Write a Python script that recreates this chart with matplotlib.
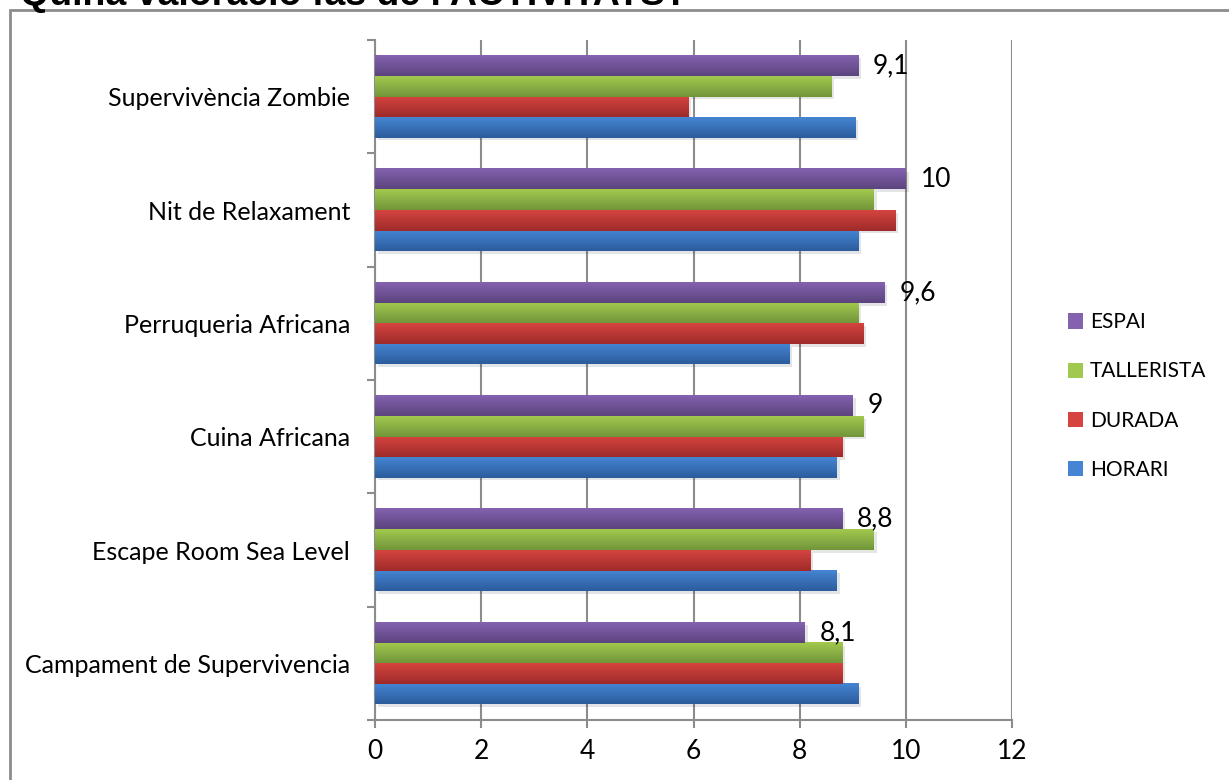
import numpy as np
import matplotlib
matplotlib.use('Agg')
from matplotlib import pyplot as plt
from matplotlib.patches import Patch, Rectangle
from matplotlib import patheffects as pe

# data (bottom to top, as drawn)
categories = ['Campament de Supervivencia', 'Escape Room Sea Level', 'Cuina Africana',
              'Perruqueria Africana', 'Nit de Relaxament', 'Supervivència Zombie']
horari = [9.1, 8.7, 8.7, 7.8, 9.1, 9.05]
durada = [8.8, 8.2, 8.8, 9.2, 9.8, 5.9]
tallerista = [8.8, 9.4, 9.2, 9.1, 9.4, 8.6]
espai = [8.1, 8.8, 9.0, 9.6, 10.0, 9.1]
espai_labels = ['8,1', '8,8', '9', '9,6', '10', '9,1']
series_names = ['HORARI', 'DURADA', 'TALLERISTA', 'ESPAI']
xticks = [0, 2, 4, 6, 8, 10, 12]
title = "Quina valoració fas de l'ACTIVITATS?"

# (top colour, bottom colour) for the excel-like gradient
grad = {
    'HORARI': ('#4585d3', '#2c5c9c'),
    'DURADA': ('#d5443f', '#9e2b2a'),
    'TALLERISTA': ('#a2c94f', '#73953a'),
    'ESPAI': ('#8462b0', '#5c447e'),
}

plt.rcParams['font.family'] = ['Lato', 'DejaVu Sans']

fig = plt.figure(figsize=(12.29, 7.80), dpi=100)
ax = fig.add_axes([375 / 1229, 1 - 720 / 780, 637 / 1229, 680 / 780])

# chart frame
fig.patches.append(Rectangle((10 / 1229, -0.1), 1.2, 1 - 10 / 780 + 0.1,
                             transform=fig.transFigure, fill=False,
                             edgecolor='#8c8c8c', linewidth=2))
# title is cut off by the top of the image in the original
fig.text(20 / 1229, 1 - 5 / 780, title, fontsize=27, fontweight='bold',
         family=['Liberation Sans', 'DejaVu Sans'], va='baseline', ha='left')

y = np.arange(len(categories))
h = 0.181
all_vals = [horari, durada, tallerista, espai]
for i, (name, vals) in enumerate(zip(series_names, all_vals)):
    off = (i - 1.5) * h
    top, bot = grad[name]
    ax.barh(y + off, vals, height=h, color=top, zorder=2,
            path_effects=[pe.SimplePatchShadow(offset=(2, -2), alpha=0.12), pe.Normal()])
    c1 = np.array(matplotlib.colors.to_rgb(bot))
    c2 = np.array(matplotlib.colors.to_rgb(top))
    t = np.linspace(0, 1, 32)[:, None, None]
    img = c1 + (c2 - c1) * t
    for yy, v in zip(y + off, vals):
        ax.imshow(img, extent=(0, v, yy - h / 2, yy + h / 2), origin='lower',
                  aspect='auto', zorder=3, interpolation='bilinear')

for yy, v, lab in zip(y + 1.5 * h, espai, espai_labels):
    ax.annotate(lab, (v, yy), xytext=(15, 0), textcoords='offset pixels',
                va='center', ha='left', fontsize=19, zorder=4)

ax.set_xlim(0, 12)
ax.set_ylim(-0.5, len(categories) - 0.5)
ax.set_aspect('auto')
ax.set_xticks(xticks)
ax.set_yticks(y)
ax.set_yticklabels(categories)
ax.set_yticks(np.arange(-0.5, len(categories)), minor=True)
ax.tick_params(axis='y', which='major', length=0, pad=18, labelsize=18)
ax.tick_params(axis='y', which='minor', length=6, width=1.5, color='#8c8c8c', direction='out')
ax.tick_params(axis='x', length=6, width=1.5, color='#8c8c8c', pad=8, labelsize=19)
ax.grid(axis='x', color='#8c8c8c', linewidth=1.5, zorder=0)
ax.set_axisbelow(True)
for s in ['top', 'right']:
    ax.spines[s].set_visible(False)
for s in ['left', 'bottom']:
    ax.spines[s].set_color('#8c8c8c')
    ax.spines[s].set_linewidth(1.5)

handles = [Patch(facecolor=grad[n][0], edgecolor='none') for n in series_names[::-1]]
fig.legend(handles, series_names[::-1], loc='center left',
           bbox_to_anchor=(1049 / 1229, 1 - 396 / 780), frameon=False,
           fontsize=15, handlelength=0.75, handleheight=0.75, handletextpad=0.3,
           labelspacing=1.4)

fig.savefig('out.png', dpi=100)
